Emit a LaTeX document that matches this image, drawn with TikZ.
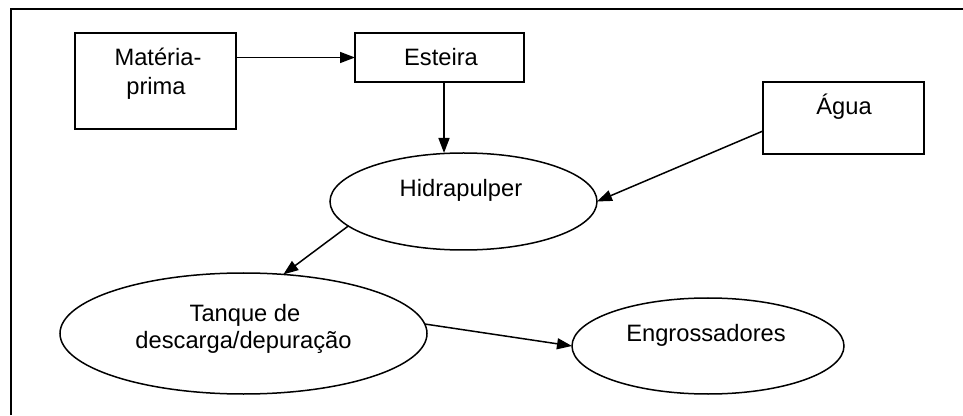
\documentclass[tikz,border=0pt]{standalone}
\usepackage{fontspec}
\setmainfont{Liberation Sans}
\usetikzlibrary{arrows.meta,shapes.geometric}

\tikzset{
  box/.style={draw, line width=1.5pt, rectangle, inner sep=0pt, outer sep=0pt},
  oval/.style={draw, line width=1.5pt, ellipse, inner sep=0pt, outer sep=0pt},
  label text/.style={anchor=base, inner sep=0pt, font=\fontsize{23.7}{27.5}\selectfont},
  flow/.style={line width=1.5pt, -{Triangle[length=15pt,width=11pt]}},
  frame/.style={line width=2pt}
}

\begin{document}
\begin{tikzpicture}[x=1pt, y=1pt]
  \useasboundingbox[fill=white] (0,0) rectangle (963,415);

  % outer frame (top and left edges)
  \coordinate (fbl) at (11,0);
  \coordinate (ftl) at (11,406);
  \coordinate (ftr) at (963,406);
  \draw[frame] (fbl) -- (ftl) -- (ftr);

  % process blocks
  \node[box, minimum width=161pt, minimum height=96pt] (mat) at (155.5,334) {};
  \node[box, minimum width=169pt, minimum height=49pt] (est) at (439.5,357.5) {};
  \node[box, minimum width=161pt, minimum height=72pt] (agua) at (843.5,297) {};
  \node[oval, minimum width=267pt, minimum height=97pt] (hidra) at (463.5,213.5) {};
  \node[oval, minimum width=367pt, minimum height=121pt] (tanque) at (243.5,81.5) {};
  \node[oval, minimum width=272pt, minimum height=96pt] (engr) at (708,69) {};

  % texts
  \node[label text] (mat-a) at (158,349.5) {Matéria-};
  \node[label text] (mat-b) at (156,320) {prima};
  \node[label text] (est-t) at (441,349.5) {Esteira};
  \node[label text] (agua-t) at (844,300) {Água};
  \node[label text] (hidra-t) at (461,218) {Hidrapulper};
  \node[label text] (tanque-a) at (245,93.3) {Tanque de};
  \node[label text] (tanque-b) at (243.5,66.7) {descarga/depuração};
  \node[label text] (engr-t) at (706,74) {Engrossadores};

  % connectors
  \draw[flow] (mat.east |- est.west) -- (est.west);
  \draw[flow] ([xshift=4.5pt]est.south) -- ([xshift=4.5pt]est.south |- hidra.north);
  \draw[flow] ([yshift=-13pt]agua.west) -- (hidra.east);
  \draw[flow] (hidra.192.7) -- (tanque.56);
  \draw[flow] (tanque.3.6) -- (engr.west);
\end{tikzpicture}
\end{document}
